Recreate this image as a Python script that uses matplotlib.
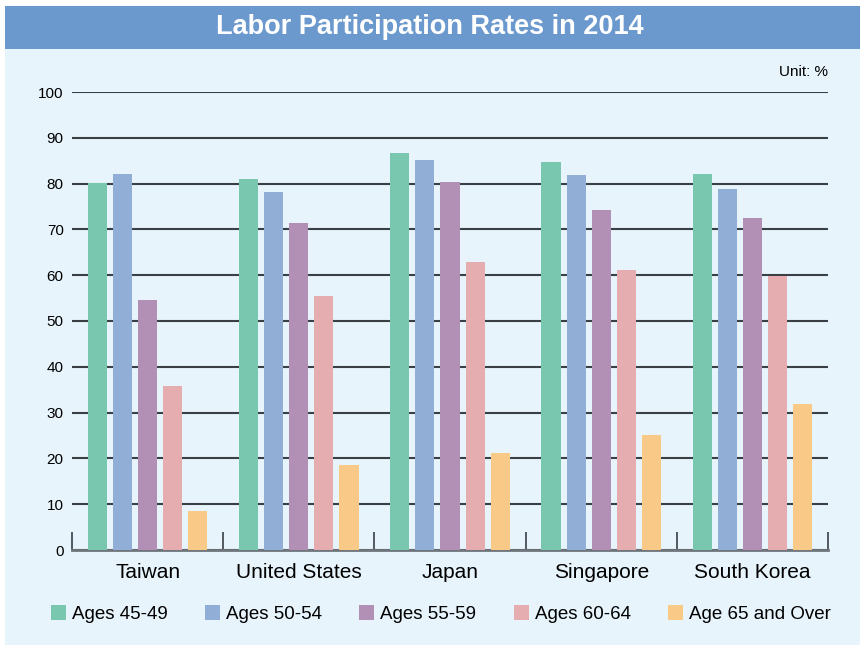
import numpy as np
import matplotlib.pyplot as plt
from matplotlib.patches import Rectangle

plt.rcParams['font.family'] = ['Liberation Sans', 'DejaVu Sans']

# data
countries = ['Taiwan', 'United States', 'Japan', 'Singapore', 'South Korea']
groups = ['Ages 45-49', 'Ages 50-54', 'Ages 55-59', 'Ages 60-64', 'Age 65 and Over']
ages_45_49 = [80.1, 81.0, 86.7, 84.7, 82.1]
ages_50_54 = [82.1, 78.2, 85.2, 81.9, 78.8]
ages_55_59 = [54.6, 71.4, 80.3, 74.2, 72.5]
ages_60_64 = [35.8, 55.5, 62.9, 61.1, 59.8]
ages_65_up = [8.5, 18.6, 21.2, 25.1, 31.9]
colors = ['#79c7ae', '#90aed6', '#b290b6', '#e5adaf', '#f9c987']

W, H = 860, 645
fig = plt.figure(figsize=(W / 100, H / 100), dpi=100)
fig.patch.set_facecolor('white')

# background panel and title band
fig.add_artist(Rectangle((5 / W, 0), 1, 1 - 6 / H, transform=fig.transFigure,
                         facecolor='#e7f4fc', edgecolor='none', zorder=0))
fig.add_artist(Rectangle((5 / W, 1 - 49 / H), 1, 43 / H, transform=fig.transFigure,
                         facecolor='#6b99cd', edgecolor='none', zorder=0))
fig.text(430 / W, 1 - 27 / H, 'Labor Participation Rates in 2014', color='white',
         fontsize=19.5, fontweight='bold', ha='center', va='center')
fig.text(828 / W, 1 - 72 / H, 'Unit: %', fontsize=11, ha='right', va='center')

ax = fig.add_axes([72 / W, 1 - 550 / H, 756 / W, 458 / H])
ax.set_facecolor('none')

series = [ages_45_49, ages_50_54, ages_55_59, ages_60_64, ages_65_up]
x = np.arange(len(countries))
step = 0.166
width = 0.126
for i, vals in enumerate(series):
    ax.bar(x + (i - 2) * step, vals, width, color=colors[i], label=groups[i], zorder=3)

ax.set_xlim(-0.5, len(countries) - 0.5)
ax.set_ylim(0, 100)
ax.set_yticks(np.arange(0, 101, 10))
ax.yaxis.grid(True, color='#3a3f44', linewidth=1.5, zorder=1)
ax.set_axisbelow(True)
for s in ['top', 'right', 'left']:
    ax.spines[s].set_visible(False)
ax.spines['bottom'].set_color('#6e757b')
ax.spines['bottom'].set_linewidth(2)
ax.tick_params(axis='y', length=0, labelsize=11, pad=6)

# category labels and boundary ticks
ax.set_xticks(x)
ax.set_xticklabels(countries, fontsize=15)
ax.tick_params(axis='x', length=0, pad=9)
ax.set_xticks(np.arange(-0.5, len(countries)), minor=True)
ax.tick_params(axis='x', which='minor', direction='in', length=13, width=1.2, color='#3a3f44')

fig.legend(loc='center', bbox_to_anchor=(441 / W, 1 - 614 / H), ncol=5, frameon=False,
           fontsize=13.5, handlelength=0.8, handleheight=0.8, handletextpad=0.32,
           columnspacing=2.0, borderaxespad=0, borderpad=0)

fig.savefig('out.png', dpi=100, facecolor=fig.get_facecolor())
